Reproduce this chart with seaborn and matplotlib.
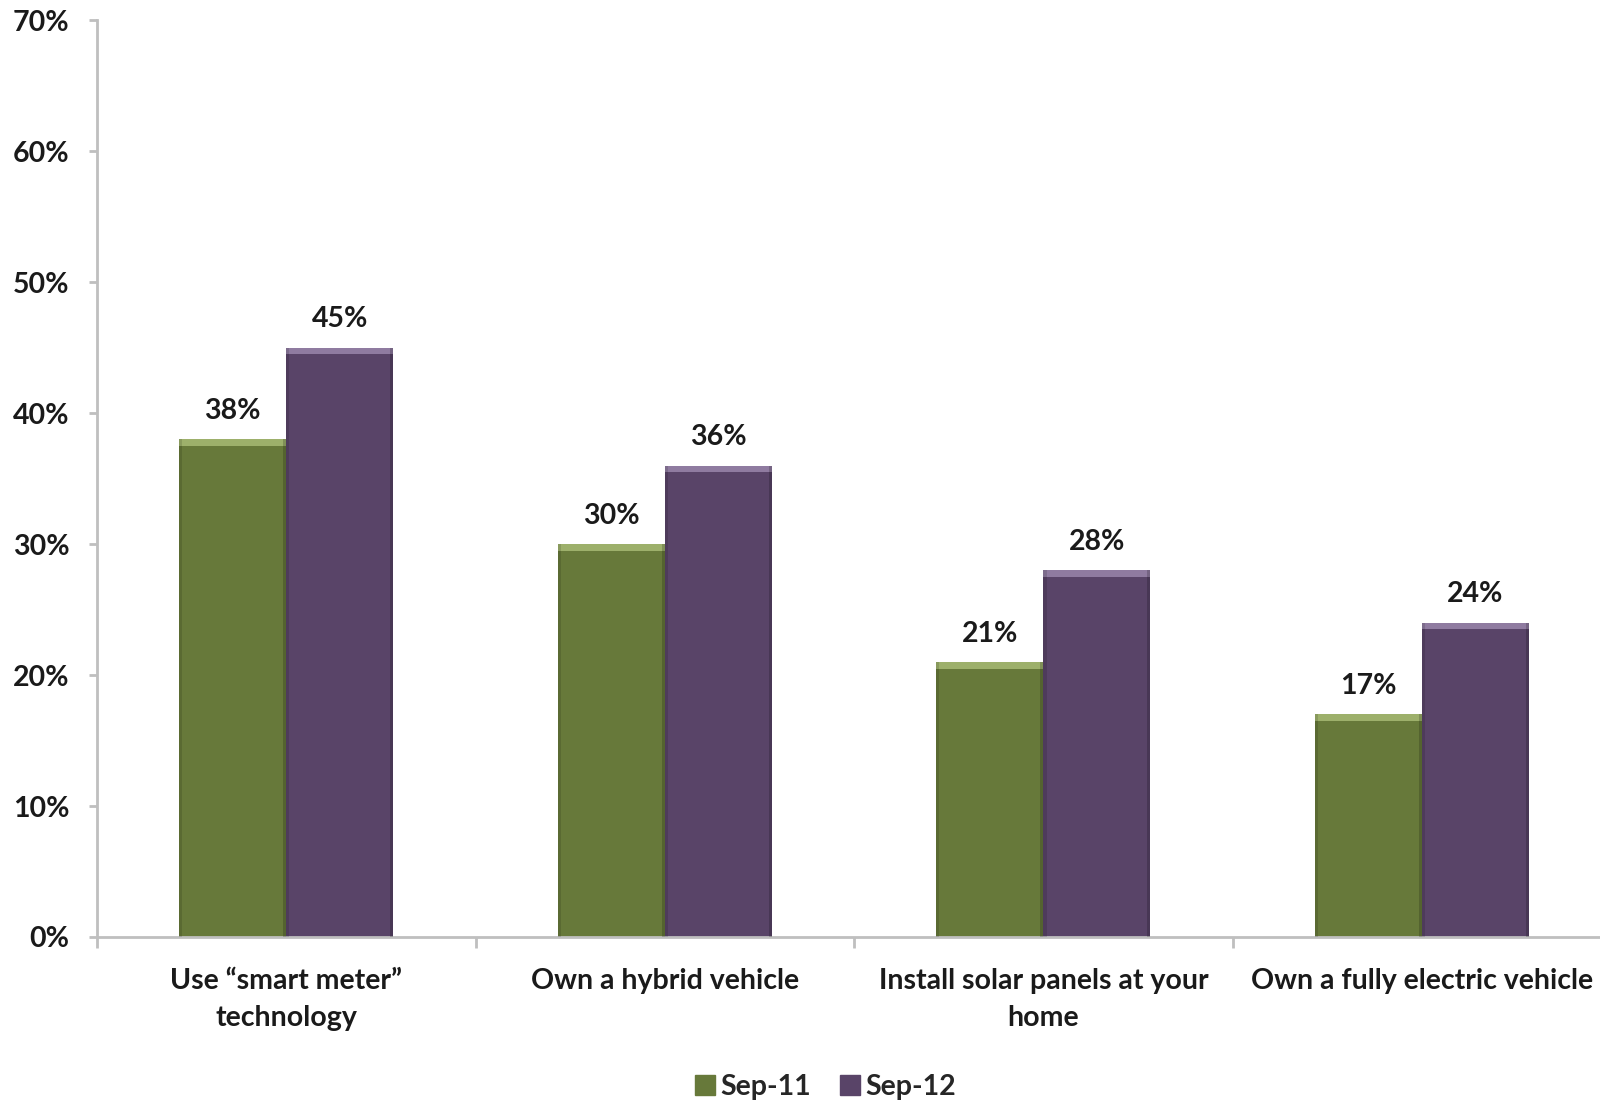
import numpy as np
import pandas as pd
import seaborn as sns
import matplotlib.pyplot as plt
from matplotlib.patches import Rectangle

sns.set_theme(style='white')
plt.rcParams['font.family'] = ['Lato', 'DejaVu Sans']

# data
categories = ['Use \u201csmart meter\u201d\ntechnology', 'Own a hybrid vehicle',
              'Install solar panels at your\nhome', 'Own a fully electric vehicle']
sep11 = [38, 30, 21, 17]
sep12 = [45, 36, 28, 24]
series = ['Sep-11', 'Sep-12']
yticks = [0, 10, 20, 30, 40, 50, 60, 70]

colors = ['#67793A', '#594468']
tops = ['#9DB06B', '#8F7BA0']
axis_col = '#BFBFBF'
fs = 20.5

df = pd.DataFrame({
    'cat': categories * 2,
    'series': [series[0]] * 4 + [series[1]] * 4,
    'val': sep11 + sep12,
})

fig = plt.figure(figsize=(16, 11.01), dpi=100)
ax = fig.add_axes([0.0606, 0.149, 1.007 - 0.0606, 0.9815 - 0.149])

sns.barplot(data=df, x='cat', y='val', hue='series', palette=colors,
            width=0.566, gap=0, ax=ax, legend=False, saturation=1,
            edgecolor='none')

# bevel-ish look: darker sides and a light strip at the top of each bar
for i, cont in enumerate(ax.containers):
    for p in cont.patches:
        x0, w, h = p.get_x(), p.get_width(), p.get_height()
        ax.add_patch(Rectangle((x0, h - 0.5), w, 0.5, color=tops[i], lw=0, zorder=3))
        ax.add_patch(Rectangle((x0, 0), w * 0.03, h, color='black', alpha=0.12, lw=0, zorder=3))
        ax.add_patch(Rectangle((x0 + w * 0.97, 0), w * 0.03, h, color='black', alpha=0.18, lw=0, zorder=3))
    ax.bar_label(cont, labels=[f'{v:.0f}%' for v in cont.datavalues], padding=11,
                 fontsize=fs, fontweight='bold', color='#1a1a1a')

ax.set_ylim(0, 70)
ax.set_xlim(-0.5, 3.5)
ax.set_yticks(yticks)
ax.set_yticklabels([f'{t}%' for t in yticks])
ax.set_xlabel('')
ax.set_ylabel('')

for side in ['top', 'right']:
    ax.spines[side].set_visible(False)
for side in ['left', 'bottom']:
    ax.spines[side].set_color(axis_col)
    ax.spines[side].set_linewidth(2)

ax.tick_params(axis='y', which='major', left=True, length=6, width=2, color=axis_col,
               labelsize=fs, pad=14)
ax.tick_params(axis='x', which='major', bottom=False, labelsize=fs, pad=16)
ax.set_xticks([-0.5, 0.5, 1.5, 2.5], minor=True)
ax.tick_params(axis='x', which='minor', bottom=True, length=8, width=2, color=axis_col)
for lab in ax.get_yticklabels() + ax.get_xticklabels():
    lab.set_fontweight('bold')
    lab.set_color('#1a1a1a')
    lab.set_linespacing(1.55)

handles = [Rectangle((0, 0), 1, 1, color=c) for c in colors]
fig.legend(handles, series, loc='lower center', bbox_to_anchor=(0.516, -0.022), ncol=2,
           frameon=False, handlelength=0.7, handleheight=0.7, handletextpad=0.2,
           columnspacing=1.0, prop={'size': fs, 'weight': 'bold'})

fig.savefig('out.png', dpi=100)
